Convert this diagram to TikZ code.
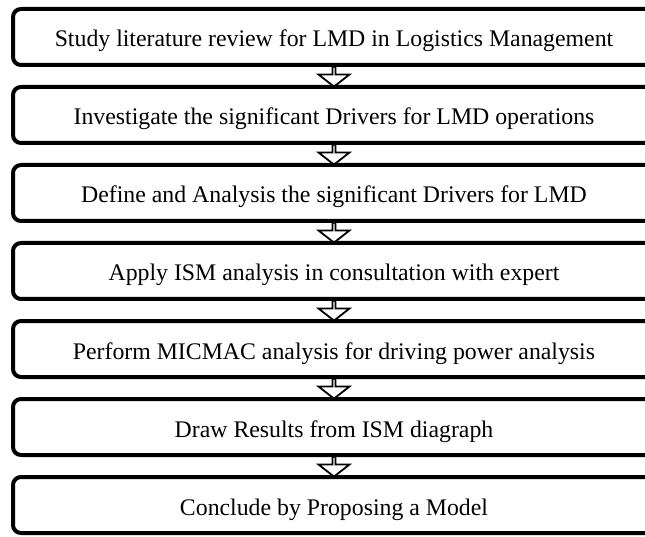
\documentclass[tikz,border=0pt]{standalone}
\usepackage{fontspec}
\setmainfont{Liberation Serif}
\usetikzlibrary{shapes.arrows,calc}
\pgfdeclarelayer{background}
\pgfsetlayers{background,main}

\begin{document}
\begin{tikzpicture}[
    x=1pt, y=-1pt,
    stage/.style={draw, rounded corners=8pt, line width=4pt, minimum width=642pt, minimum height=56pt, inner sep=0pt, text height=24pt, text depth=4pt, font=\fontsize{23.8}{28}\selectfont},
    flow/.style={single arrow, draw, fill=white, line width=1.8pt, rotate=-90, minimum width=31pt, minimum height=20pt, inner sep=0pt, single arrow head extend=8pt, single arrow tip angle=104}
]
    \useasboundingbox (0,0) rectangle (645,537);
    \clip (0,0) rectangle (645,537);
    \node[stage] (s1) at (334,37) {Study literature review for LMD in Logistics Management};
    \node[stage] (s2) at (334,115) {Investigate the significant Drivers for LMD operations};
    \node[stage] (s3) at (334,193) {Define and Analysis the significant Drivers for LMD};
    \node[stage] (s4) at (334,271) {Apply ISM analysis in consultation with expert};
    \node[stage] (s5) at (334,349) {Perform MICMAC analysis for driving power analysis};
    \node[stage] (s6) at (334,427) {Draw Results from ISM diagraph};
    \node[stage] (s7) at (334,505) {Conclude by Proposing a Model};
    \begin{pgfonlayer}{background}
    \node[flow] (a1) at ($(s1.south)!0.5!(s2.north)$) {};
    \node[flow] (a2) at ($(s2.south)!0.5!(s3.north)$) {};
    \node[flow] (a3) at ($(s3.south)!0.5!(s4.north)$) {};
    \node[flow] (a4) at ($(s4.south)!0.5!(s5.north)$) {};
    \node[flow] (a5) at ($(s5.south)!0.5!(s6.north)$) {};
    \node[flow] (a6) at ($(s6.south)!0.5!(s7.north)$) {};
    \end{pgfonlayer}
\end{tikzpicture}
\end{document}
